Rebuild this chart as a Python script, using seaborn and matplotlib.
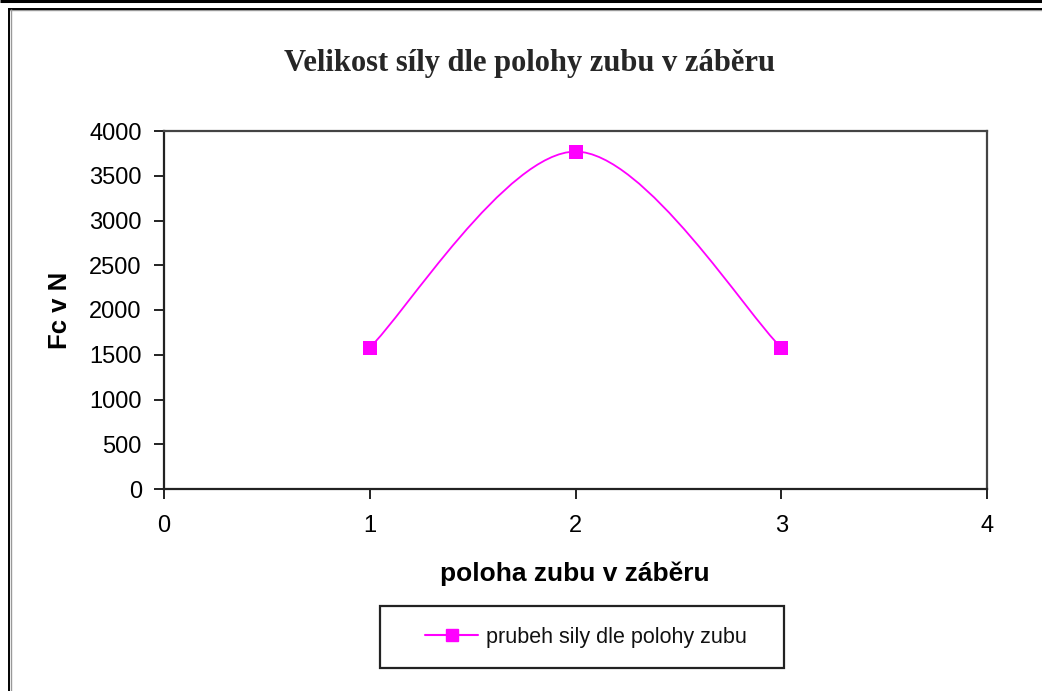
import numpy as np
import pandas as pd
import seaborn as sns
import matplotlib
matplotlib.use("Agg")
import matplotlib.pyplot as plt
from matplotlib.path import Path
from matplotlib.patches import PathPatch, Rectangle
from matplotlib.lines import Line2D

# Data
positions = [1, 2, 3]
forces = [1580, 3770, 1580]
series_name = "prubeh sily dle polohy zubu"
title = "Velikost síly dle polohy zubu v záběru"
x_label = "poloha zubu v záběru"
y_label = "Fc v N"
x_ticks = [0, 1, 2, 3, 4]
y_ticks = list(range(0, 4001, 500))

sns.set_theme(style="white")
plt.rcParams["font.family"] = ["Liberation Sans", "DejaVu Sans"]

MAGENTA = "#FF00FF"
W, H = 1042, 691
fig = plt.figure(figsize=(W / 100, H / 100), dpi=100)
fig.patch.set_facecolor("white")

ax = fig.add_axes([164 / W, 1 - 489 / H, (987 - 164) / W, (489 - 131) / H])
ax.set_facecolor("white")

df = pd.DataFrame({"pos": positions, "force": forces})

# Smoothed connecting line: cubic Bezier segments (Catmull-Rom style control points)
pts = np.column_stack([df["pos"].to_numpy(float), df["force"].to_numpy(float)])
n = len(pts)
verts = [tuple(pts[0])]
codes = [Path.MOVETO]
for i in range(n - 1):
    p_prev = pts[max(i - 1, 0)]
    p0, p1 = pts[i], pts[i + 1]
    p_next = pts[min(i + 2, n - 1)]
    c1 = p0 + (p1 - p_prev) / 6.0
    c2 = p1 - (p_next - p0) / 6.0
    verts += [tuple(c1), tuple(c2), tuple(p1)]
    codes += [Path.CURVE4] * 3
ax.add_patch(PathPatch(Path(verts, codes), facecolor="none", edgecolor=MAGENTA,
                       lw=1.3, zorder=2))

sns.scatterplot(data=df, x="pos", y="force", marker="s", s=95, color=MAGENTA,
                edgecolor=MAGENTA, linewidth=0, ax=ax, zorder=3, legend=False)

ax.set_xlim(0, 4)
ax.set_ylim(0, 4000)
ax.set_xticks(x_ticks)
ax.set_yticks(y_ticks)
ax.set_xticklabels([str(t) for t in x_ticks])
ax.set_yticklabels([str(t) for t in y_ticks])
ax.tick_params(axis="both", direction="out", length=7, width=1.4, color="#222222",
               labelsize=17, labelcolor="black")
ax.tick_params(axis="y", pad=9, left=True)
ax.tick_params(axis="x", pad=12, bottom=True)
ax.grid(False)

for side in ["left", "bottom"]:
    ax.spines[side].set_color("#222222")
    ax.spines[side].set_linewidth(1.6)
for side in ["top", "right"]:
    ax.spines[side].set_visible(True)
    ax.spines[side].set_color("#444444")
    ax.spines[side].set_linewidth(1.6)

ax.set_xlabel(x_label, fontsize=19, fontweight="bold", color="black")
ax.set_ylabel(y_label, fontsize=18.5, fontweight="bold", color="black")
ax.xaxis.set_label_coords((575 - 164) / (987 - 164), (489 - 561) / (489 - 131))
ax.yaxis.set_label_coords((72 - 164) / (987 - 164), (489 - 310) / (489 - 131))

fig.text(530 / W, 1 - 63 / H, title, ha="center", va="center",
         fontsize=22, fontweight="bold", family=["Liberation Serif", "DejaVu Serif"])

# Legend with its own rectangular frame
handle = Line2D([], [], color=MAGENTA, lw=1.5, marker="s", markersize=9,
                markerfacecolor=MAGENTA, markeredgecolor=MAGENTA)
leg = fig.legend([handle], [series_name], loc="center",
                 bbox_to_anchor=(586 / W, 1 - 637 / H), frameon=False,
                 fontsize=15.5, handlelength=2.45, handletextpad=0.35,
                 borderpad=0.0, borderaxespad=0)
for t in leg.get_texts():
    t.set_color("#111111")
fig.add_artist(Rectangle((380 / W, 1 - 668 / H), (784 - 380) / W, (668 - 606) / H,
                         transform=fig.transFigure, facecolor="none",
                         edgecolor="#222222", lw=1.6))

# Outer chart frame
def frame_line(x0, y0, x1, y1, lw, color):
    fig.add_artist(Line2D([x0 / W, x1 / W], [1 - y0 / H, 1 - y1 / H],
                          transform=fig.transFigure, lw=lw, color=color,
                          solid_capstyle="butt"))

frame_line(0, 1.2, W, 1.2, 2.2, "black")
frame_line(9, 9.8, W, 9.8, 1.0, "#999999")
frame_line(8, 8.5, W, 8.5, 1.4, "black")
frame_line(10.5, 9, 10.5, H, 1.0, "#999999")
frame_line(9, 8, 9, H, 1.4, "black")

fig.savefig("out.png", dpi=100, facecolor="white")
